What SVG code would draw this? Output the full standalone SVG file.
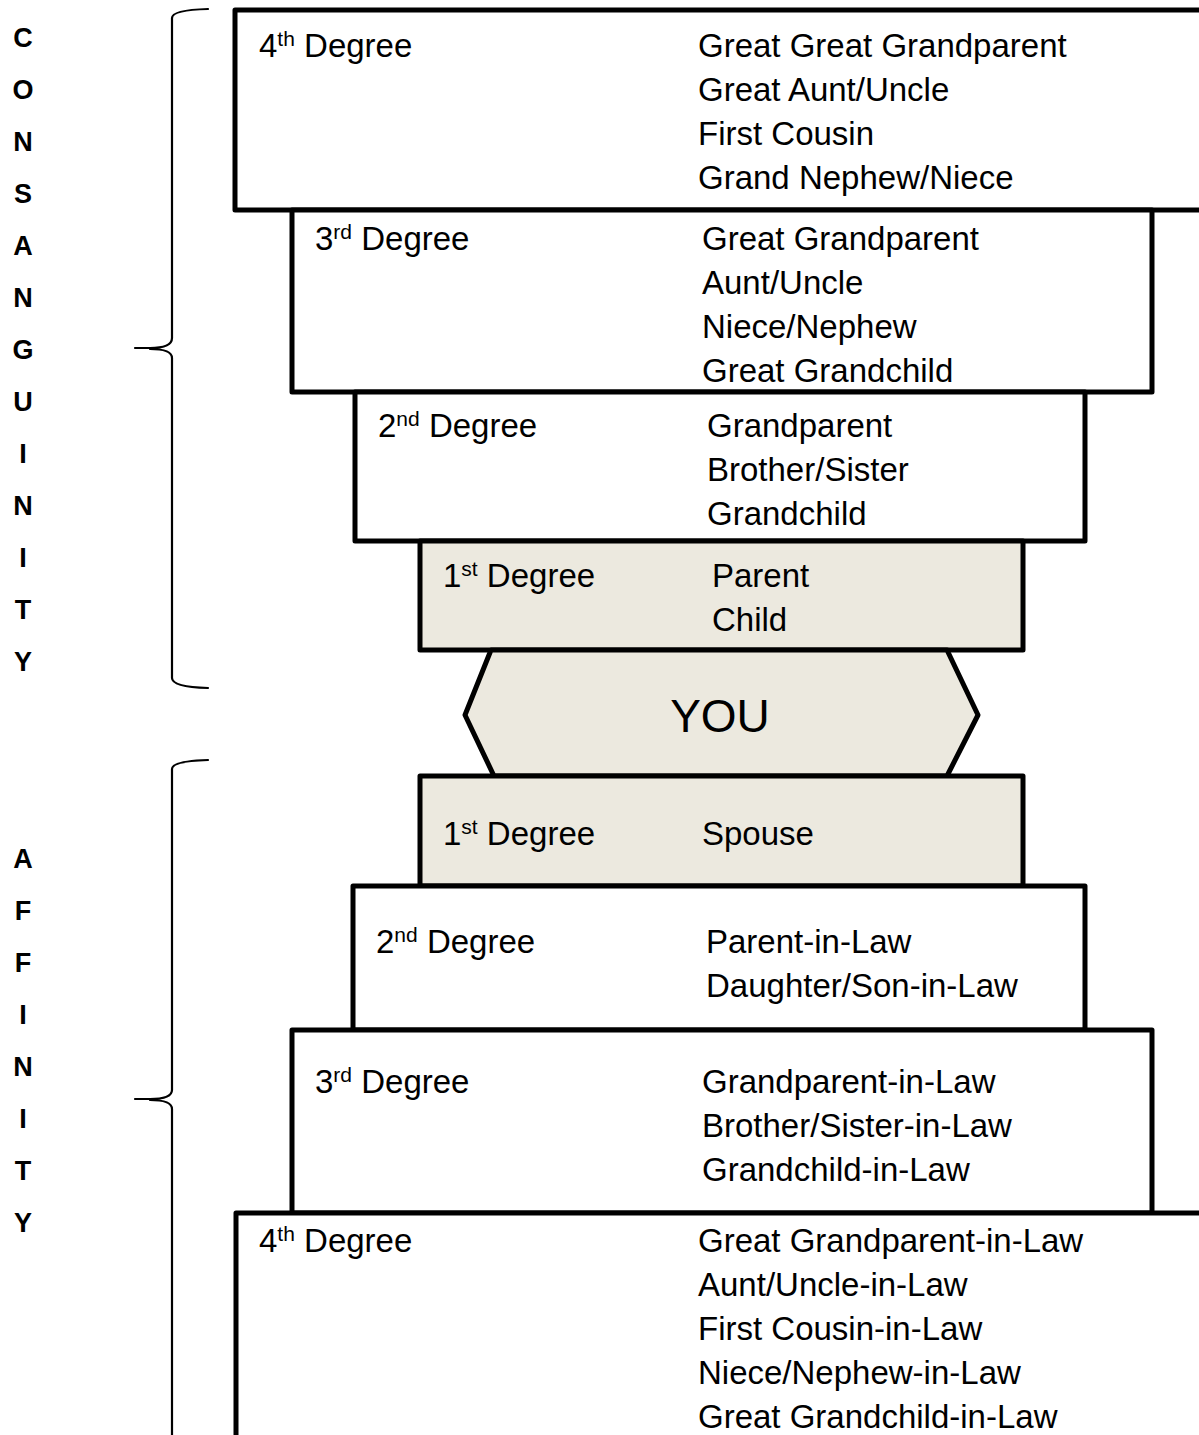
<svg xmlns="http://www.w3.org/2000/svg" width="1199" height="1435" viewBox="0 0 1199 1435">
<style>
.box{fill:#ffffff;stroke:#000;stroke-width:5;stroke-linejoin:round}
.shade{fill:#ECE9DF;stroke:#000;stroke-width:5;stroke-linejoin:round}
.brace{fill:none;stroke:#000;stroke-width:2.2;stroke-linecap:round}
.t{font-family:"Liberation Sans",Arial,sans-serif;font-size:33px;fill:#000}
.sup{font-size:21px}
.side{font-family:"Liberation Sans",Arial,sans-serif;font-size:27px;font-weight:bold;fill:#000;text-anchor:middle}
.you{font-family:"Liberation Sans",Arial,sans-serif;font-size:46px;fill:#000;text-anchor:middle}
</style>
<rect width="1199" height="1435" fill="#fff"/>

<g id="braces">
<path class="brace" d="M208,9 Q172,10 172,18 V338 Q172,348 150,348 H135 M150,349 Q172,349 172,358 V678 Q172,687 208,688"/>
<path class="brace" d="M208,760 Q172,761 172,769 V1090 Q172,1099 150,1099 H135 M150,1100 Q172,1100 172,1109 V1445"/>
</g>

<g id="consanguinity-label">
<text class="side" x="23" y="47">C</text>
<text class="side" x="23" y="99">O</text>
<text class="side" x="23" y="151">N</text>
<text class="side" x="23" y="203">S</text>
<text class="side" x="23" y="255">A</text>
<text class="side" x="23" y="307">N</text>
<text class="side" x="23" y="359">G</text>
<text class="side" x="23" y="411">U</text>
<text class="side" x="23" y="463">I</text>
<text class="side" x="23" y="515">N</text>
<text class="side" x="23" y="567">I</text>
<text class="side" x="23" y="619">T</text>
<text class="side" x="23" y="671">Y</text>
</g>

<g id="affinity-label">
<text class="side" x="23" y="868">A</text>
<text class="side" x="23" y="920">F</text>
<text class="side" x="23" y="972">F</text>
<text class="side" x="23" y="1024">I</text>
<text class="side" x="23" y="1076">N</text>
<text class="side" x="23" y="1128">I</text>
<text class="side" x="23" y="1180">T</text>
<text class="side" x="23" y="1232">Y</text>
</g>

<g id="cons-4">
<rect class="box" x="235" y="10" width="1000" height="200"/>
<text class="t" x="259" y="57">4<tspan class="sup" dy="-11">th</tspan><tspan dy="11"> Degree</tspan></text>
<text class="t" x="698" y="57">Great Great Grandparent</text>
<text class="t" x="698" y="101">Great Aunt/Uncle</text>
<text class="t" x="698" y="145">First Cousin</text>
<text class="t" x="698" y="189">Grand Nephew/Niece</text>
</g>

<g id="cons-3">
<rect class="box" x="292" y="210" width="860" height="182"/>
<text class="t" x="315" y="250">3<tspan class="sup" dy="-11">rd</tspan><tspan dy="11"> Degree</tspan></text>
<text class="t" x="702" y="250">Great Grandparent</text>
<text class="t" x="702" y="294">Aunt/Uncle</text>
<text class="t" x="702" y="338">Niece/Nephew</text>
<text class="t" x="702" y="382">Great Grandchild</text>
</g>

<g id="cons-2">
<rect class="box" x="355" y="392" width="730" height="149"/>
<text class="t" x="378" y="437">2<tspan class="sup" dy="-11">nd</tspan><tspan dy="11"> Degree</tspan></text>
<text class="t" x="707" y="437">Grandparent</text>
<text class="t" x="707" y="481">Brother/Sister</text>
<text class="t" x="707" y="525">Grandchild</text>
</g>

<g id="cons-1">
<rect class="shade" x="420" y="541" width="603" height="109"/>
<text class="t" x="443" y="587">1<tspan class="sup" dy="-11">st</tspan><tspan dy="11"> Degree</tspan></text>
<text class="t" x="712" y="587">Parent</text>
<text class="t" x="712" y="631">Child</text>
</g>

<g id="you">
<polygon class="shade" points="465,715 491,650 947,650 978,715 947,776 494,776"/>
<text class="you" x="720" y="732">YOU</text>
</g>

<g id="aff-1">
<rect class="shade" x="420" y="776" width="603" height="110"/>
<text class="t" x="443" y="845">1<tspan class="sup" dy="-11">st</tspan><tspan dy="11"> Degree</tspan></text>
<text class="t" x="702" y="845">Spouse</text>
</g>

<g id="aff-2">
<rect class="box" x="353" y="886" width="732" height="144"/>
<text class="t" x="376" y="953">2<tspan class="sup" dy="-11">nd</tspan><tspan dy="11"> Degree</tspan></text>
<text class="t" x="706" y="953">Parent-in-Law</text>
<text class="t" x="706" y="997">Daughter/Son-in-Law</text>
</g>

<g id="aff-3">
<rect class="box" x="292" y="1030" width="860" height="183"/>
<text class="t" x="315" y="1093">3<tspan class="sup" dy="-11">rd</tspan><tspan dy="11"> Degree</tspan></text>
<text class="t" x="702" y="1093">Grandparent-in-Law</text>
<text class="t" x="702" y="1137">Brother/Sister-in-Law</text>
<text class="t" x="702" y="1181">Grandchild-in-Law</text>
</g>

<g id="aff-4">
<rect class="box" x="236" y="1213" width="1000" height="300"/>
<text class="t" x="259" y="1252">4<tspan class="sup" dy="-11">th</tspan><tspan dy="11"> Degree</tspan></text>
<text class="t" x="698" y="1252">Great Grandparent-in-Law</text>
<text class="t" x="698" y="1296">Aunt/Uncle-in-Law</text>
<text class="t" x="698" y="1340">First Cousin-in-Law</text>
<text class="t" x="698" y="1384">Niece/Nephew-in-Law</text>
<text class="t" x="698" y="1428">Great Grandchild-in-Law</text>
</g>
</svg>
